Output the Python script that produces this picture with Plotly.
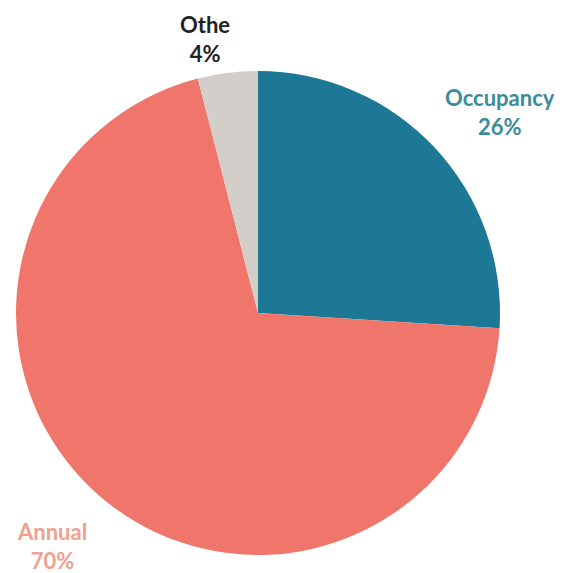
import plotly.graph_objects as go

labels = ["Occupancy", "Annual", "Othe"]
values = [26, 70, 4]
slice_colors = ["#1C7895", "#F0756A", "#D3CECA"]
label_colors = ["#3A8C98", "#F0A08E", "#222222"]

W, H = 562, 573
fig = go.Figure()
fig.add_trace(go.Pie(
    labels=labels,
    values=values,
    sort=False,
    direction="clockwise",
    rotation=0,
    marker=dict(colors=slice_colors, line=dict(width=0)),
    textinfo="none",
    hoverinfo="label+percent",
    showlegend=False,
    domain=dict(x=[8/W, 492/W], y=[1 - 547/H, 1 - 63/H]),
))

# label positions (figure pixels -> paper)
label_px = [(492, 104), (44, 538), (197, 31)]
for lab, val, col, (px, py) in zip(labels, values, label_colors, label_px):
    fig.add_annotation(
        x=px / W, y=1 - py / H, xref="paper", yref="paper",
        text=f"<b>{lab}<br>{val}%</b>",
        showarrow=False,
        font=dict(family="Lato, Open Sans, sans-serif", size=22, color=col),
        align="center",
        xanchor="center", yanchor="middle",
    )

fig.update_layout(
    width=W, height=H,
    margin=dict(l=0, r=0, t=0, b=0),
    paper_bgcolor="white",
    plot_bgcolor="white",
)

fig.write_html("out.html")
